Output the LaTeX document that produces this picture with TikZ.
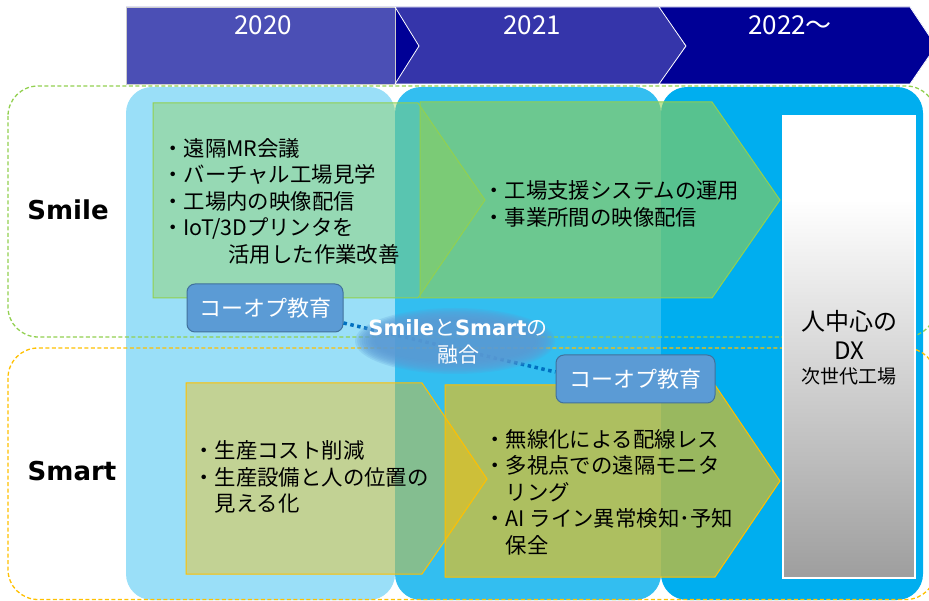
\documentclass[tikz,border=0pt]{standalone}
\usepackage{fontspec}
\setmainfont{Noto Sans CJK JP}
\newfontfamily\latinfont{DejaVu Sans}
\usetikzlibrary{positioning}

\definecolor{yearA}{HTML}{4B4FB5}
\definecolor{yearB}{HTML}{3535AA}
\definecolor{yearC}{HTML}{000096}
\definecolor{colA}{HTML}{9ADFF8}
\definecolor{colB}{HTML}{33BEF0}
\definecolor{colC}{HTML}{00AEEF}
\definecolor{smilegreen}{HTML}{92D050}
\definecolor{smartorange}{HTML}{FFC000}
\definecolor{coopblue}{HTML}{5B9BD5}
\definecolor{coopedge}{HTML}{41719C}
\definecolor{linkblue}{HTML}{0070C0}

\pgfdeclareverticalshading{dxfade}{100bp}{color(0bp)=(black!38); color(25bp)=(black!38); color(66bp)=(white); color(100bp)=(white)}
\newcommand{\boldlatin}[1]{{\latinfont\bfseries #1}}

\begin{document}
\begin{tikzpicture}[x=1pt,y=-1pt]
  \tikzstyle{yearbox}=[draw=white,line width=0.8pt]
  \tikzstyle{yearlabel}=[text=white,inner sep=0pt,font=\fontsize{26}{30}\selectfont]
  \tikzstyle{groupbox}=[line width=1.3pt,rounded corners=30pt,dash pattern=on 4pt off 2.5pt]
  \tikzstyle{grouplabel}=[inner sep=0pt,font=\latinfont\bfseries\fontsize{26}{30}\selectfont]
  \tikzstyle{planbox}=[line width=1pt]
  \tikzstyle{plantext}=[anchor=west,align=left,inner sep=0pt,font=\fontsize{21.4}{26.5}\selectfont]
  \tikzstyle{coopbox}=[draw=coopedge,fill=coopblue,line width=1pt,rounded corners=8pt,text=white,minimum height=48pt,font=\fontsize{22}{25}\selectfont]
  \tikzstyle{linkline}=[draw=linkblue,line width=3.5pt,dash pattern=on 3.5pt off 3.5pt]
  \tikzstyle{dxbox}=[draw=white,line width=1.5pt,shading=dxfade]
  \tikzstyle{dxtext}=[inner sep=0pt]
  \useasboundingbox (0,0) rectangle (929,601);

  % year header
  \fill[yearC] (126,7) -- (910,7) -- (936,46) -- (910,84) -- (126,84) -- cycle;
  \draw[yearbox,fill=yearA,draw=black!20] (126,7) rectangle (395,84);
  \draw[yearbox,fill=yearB] (395,7) -- (660,7) -- (686,46) -- (660,84) -- (395,84) -- (419,46) -- cycle;
  \draw[yearbox,fill=yearC] (659,7) -- (910,7) -- (936,46) -- (910,84) -- (659,84) -- (686,46) -- cycle;
  \node[yearlabel] (y2020) at (263,25) {2020};
  \node[yearlabel] (y2021) at (532,25) {2021};
  \node[yearlabel] (y2022) at (790,25) {2022～};

  % columns
  \fill[colA,rounded corners=26pt] (126,87) rectangle (395,600);
  \fill[colB,rounded corners=26pt] (395,87) rectangle (661,600);
  \fill[colC,rounded corners=26pt] (661,87) rectangle (923,600);

  % Smile / Smart groups
  \draw[groupbox,smilegreen] (8,86) rectangle (936,337);
  \draw[groupbox,smartorange] (8,348) rectangle (936,599.5);
  \node[grouplabel] (smile) at (68,210) {Smile};
  \node[grouplabel] (smart) at (72,471) {Smart};

  % goal
  \draw[dxbox] (783,116) rectangle (915,578);
  \node[dxtext,font=\fontsize{24}{28}\selectfont] (goalA) at (849,321) {人中心の};
  \node[dxtext,font=\fontsize{24}{28}\selectfont] (goalB) at (849,351) {DX};
  \node[dxtext,font=\fontsize{19}{23}\selectfont] (goalC) at (849,376) {次世代工場};

  % plans
  \draw[planbox,draw=smilegreen,fill=smilegreen,fill opacity=0.4] (153,103) -- (418,103) -- (485,200) -- (418,298) -- (153,298) -- cycle;
  \draw[planbox,draw=smilegreen,fill=smilegreen,fill opacity=0.6] (420,102) -- (712,102) -- (780,200) -- (712,298) -- (420,298) -- cycle;
  \draw[planbox,draw=smartorange,fill=smartorange,fill opacity=0.4] (186,383) -- (422,383) -- (487,479) -- (422,574) -- (186,574) -- cycle;
  \draw[planbox,draw=smartorange,fill=smartorange,fill opacity=0.6] (445,385) -- (715,385) -- (780,481) -- (715,577) -- (445,577) -- cycle;

  \node[plantext] (smileA) at (162,201) {・遠隔MR会議\\・バーチャル工場見学\\・工場内の映像配信\\・IoT/3Dプリンタを\\\hspace*{3.1em}活用した作業改善};
  \node[plantext] (smileB) at (483,204) {・工場支援システムの運用\\・事業所間の映像配信};
  \node[plantext] (smartA) at (193,477) {・生産コスト削減\\・生産設備と人の位置の\\\hspace*{1em}見える化};
  \node[plantext] (smartB) at (484,492) {・無線化による配線レス\\・多視点での遠隔モニタ\\\hspace*{1em}リング\\・AI ライン異常検知･予知\\\hspace*{1em}保全};

  % co-op education and fusion
  \node[coopbox,minimum width=156pt] (coopA) at (265,308) {コーオプ教育};
  \node[coopbox,minimum width=159pt] (coopB) at (635.5,379) {コーオプ教育};
  \draw[linkline] ([yshift=-15pt]coopA.east) -- ([yshift=7pt]coopB.west);
  \foreach \k in {0,...,9}
    \fill[coopblue,opacity=0.22] (455,341) ellipse ({100-2.2*\k} and {33-1.4*\k});
  \node[text=white,align=center,inner sep=0pt,font=\fontsize{21}{27}\selectfont] (fusion) at (458,342) {\boldlatin{Smile}と\boldlatin{Smart}の\\融合};
\end{tikzpicture}
\end{document}
